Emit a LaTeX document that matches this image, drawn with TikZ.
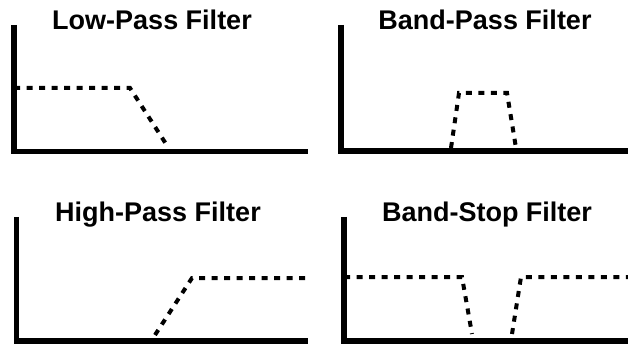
\documentclass[tikz,border=0pt]{standalone}
\usepackage{fontspec}
\setmainfont{Liberation Sans}
\begin{document}
\begin{tikzpicture}[x=1pt,y=-1pt,
  axis/.style={line width=5.5pt},
  resp/.style={line width=4pt, dash pattern=on 6pt off 6.5pt},
  title/.style={font=\bfseries\fontsize{27}{30}\selectfont, anchor=base, inner sep=0pt}]
\useasboundingbox (0,0) rectangle (628,344);
% titles
\node[title] (t1) at (152,30) {Low-Pass Filter};
\node[title] (t2) at (485,30) {Band-Pass Filter};
\node[title] (t3) at (158,222) {High-Pass Filter};
\node[title] (t4) at (487,222) {Band-Stop Filter};
% axes
\draw[axis] (14,25) -- (14,151.5) -- (308,151.5);
\draw[axis] (341,25) -- (341,151) -- (628,151);
\draw[axis] (16.7,217) -- (16.7,341) -- (308,341);
\draw[axis] (344,217) -- (344,341) -- (628,341);
% responses
\draw[resp] (14,88) -- (130,88) -- (168,147);
\draw[resp] (451,148) -- (459,93) -- (507,93) -- (516,148);
\draw[resp] (155,335) -- (192,278) -- (308,278);
\draw[resp] (344,277) -- (462,277) -- (472,334);
\draw[resp] (512,334) -- (521,277) -- (628,277);
\end{tikzpicture}
\end{document}
